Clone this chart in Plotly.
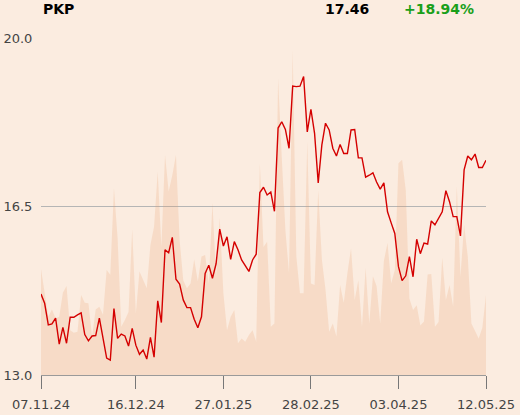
import pandas as pd
import plotly.graph_objects as go

# ---- data -------------------------------------------------------------
holidays = ["2024-11-11", "2024-12-24", "2024-12-25", "2024-12-26", "2024-12-31",
            "2025-01-01", "2025-01-06", "2025-04-18", "2025-04-21", "2025-05-01"]
all_days = pd.bdate_range("2024-11-07", "2025-05-12")
dates = [d.strftime("%d.%m.%y") for d in all_days if d.strftime("%Y-%m-%d") not in holidays]

price = [14.68, 14.49, 14.04, 14.06, 14.18, 13.64, 13.99, 13.66, 14.20, 14.20,
         14.25, 14.29, 13.84, 13.71, 13.81, 13.82, 14.18, 13.80, 13.35, 13.31,
         14.38, 13.76, 13.85, 13.81, 13.60, 13.97, 13.62, 13.43, 13.52, 13.33,
         13.78, 13.37, 14.54, 14.09, 15.60, 15.54, 15.86, 14.99, 14.89, 14.56,
         14.40, 14.40, 14.16, 13.98, 14.21, 15.11, 15.28, 15.01, 15.31, 16.03,
         15.68, 15.87, 15.40, 15.77, 15.60, 15.39, 15.27, 15.15, 15.39, 15.51,
         16.79, 16.90, 16.74, 16.80, 16.40, 18.13, 18.26, 18.10, 17.71, 19.00,
         18.99, 19.00, 19.20, 18.05, 18.52, 18.02, 16.99, 17.78, 18.23, 18.09,
         17.71, 17.55, 17.79, 17.60, 17.60, 18.09, 18.10, 17.51, 17.51, 17.11,
         17.15, 17.20, 17.01, 16.86, 16.99, 16.39, 16.16, 15.94, 15.25, 14.96,
         15.06, 15.46, 15.04, 15.82, 15.52, 15.74, 15.72, 16.20, 16.12, 16.25,
         16.39, 16.83, 16.60, 16.29, 16.29, 15.89, 17.26, 17.55, 17.47, 17.59,
         17.31, 17.31, 17.46]

volume_band = [15.20, 14.70, 14.21, 14.36, 14.18, 14.21, 14.71, 14.85, 13.93, 13.88,
               13.90, 14.66, 14.50, 14.49, 13.80, 14.36, 14.42, 14.25, 15.18, 15.08,
               16.88, 15.84, 14.00, 14.14, 14.31, 16.03, 14.28, 15.15, 14.97, 14.80,
               15.70, 16.08, 17.22, 15.66, 17.57, 16.81, 17.15, 17.57, 15.80, 14.97,
               14.80, 14.90, 15.40, 14.94, 15.46, 15.49, 14.90, 16.58, 15.04, 16.26,
               14.70, 13.93, 14.21, 14.35, 13.66, 13.76, 13.69, 13.83, 13.93, 13.69,
               17.40, 15.66, 15.77, 14.00, 14.07, 19.16, 17.53, 16.01, 15.11, 19.75,
               15.46, 14.70, 14.70, 17.85, 14.90, 14.87, 16.84, 15.40, 14.77, 13.90,
               14.07, 13.80, 14.87, 14.50, 15.11, 15.63, 14.56, 14.97, 14.00, 15.22,
               14.07, 15.05, 14.85, 14.07, 15.37, 15.74, 14.90, 15.18, 17.40, 17.47,
               16.84, 14.59, 14.35, 14.45, 14.03, 14.11, 15.09, 15.10, 14.00, 14.10,
               15.44, 14.56, 14.87, 14.42, 16.92, 15.04, 16.12, 15.46, 14.07, 13.93,
               13.76, 13.98, 14.66]

x_tick_labels = ["07.11.24", "16.12.24", "27.01.25", "28.02.25", "03.04.25", "12.05.25"]
y_tick_values = [13.0, 16.5, 20.0]
y_tick_labels = ["13.0", "16.5", "20.0"]

title_name = "PKP"
last_price = "17.46"
change_text = "+18.94%"

# ---- figure -----------------------------------------------------------
BG = "#fbece0"
fig = go.Figure()
fig.add_trace(go.Scatter(
    x=dates, y=volume_band, mode="lines", line=dict(width=0),
    fill="tozeroy", fillcolor="rgba(235,150,90,0.19)", hoverinfo="skip",
))
fig.add_trace(go.Scatter(
    x=dates, y=price, mode="lines", line=dict(color="#d40000", width=1.4),
))

fig.update_layout(
    width=520, height=415,
    margin=dict(l=41, r=34, t=38, b=40, autoexpand=False),
    paper_bgcolor=BG, plot_bgcolor=BG,
    showlegend=False,
    font=dict(family="DejaVu Sans", size=13, color="#444444"),
    xaxis=dict(
        type="category", range=[0, len(dates) - 1], automargin=False,
        tickmode="array", tickvals=x_tick_labels, ticktext=x_tick_labels,
        showgrid=False, zeroline=False,
        showline=True, linecolor="#9a9a9a", linewidth=1,
        ticks="outside", ticklen=13, tickcolor="#777777", tickwidth=1,
        ticklabelstandoff=4,
        tickfont=dict(family="DejaVu Sans", size=13, color="#444444"),
    ),
    yaxis=dict(
        range=[13, 20], tickmode="array", tickvals=y_tick_values, ticktext=y_tick_labels,
        automargin=False,
        showgrid=True, gridcolor="#b5b5b5", gridwidth=1, zeroline=False,
        ticks="outside", ticklen=5, tickcolor="rgba(0,0,0,0)",
        tickfont=dict(family="DejaVu Sans", size=13, color="#444444"),
    ),
)

fig.add_annotation(xref="paper", yref="paper", x=0.0, y=1.086, xanchor="left", yanchor="middle",
                   text=f"<b>{title_name}</b>", showarrow=False,
                   font=dict(family="DejaVu Sans", size=14, color="#000000"))
fig.add_annotation(xref="paper", yref="paper", x=0.741, y=1.086, xanchor="right", yanchor="middle",
                   text=f"<b>{last_price}</b>", showarrow=False,
                   font=dict(family="DejaVu Sans", size=14, color="#000000"))
fig.add_annotation(xref="paper", yref="paper", x=0.977, y=1.086, xanchor="right", yanchor="middle",
                   text=f"<b>{change_text}</b>", showarrow=False,
                   font=dict(family="DejaVu Sans", size=14, color="#1a9f1a"))

fig.write_html(
    "out.html",
    config={"displayModeBar": False},
    post_script="document.body.style.margin='0';document.body.style.padding='0';"
                "document.body.style.overflow='hidden';"
                "document.body.style.background='" + BG + "';",
)
